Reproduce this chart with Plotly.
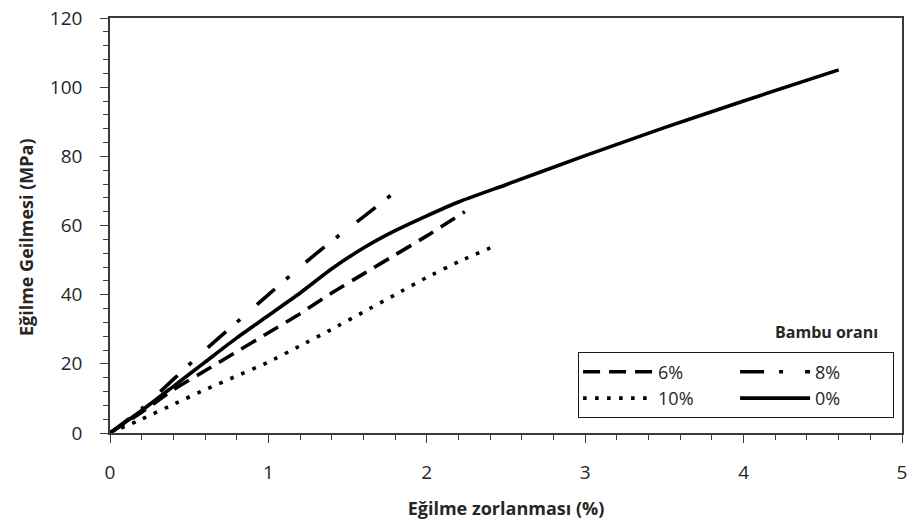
import plotly.graph_objects as go

# Flexural stress-strain curves by bamboo fibre ratio
strain_0 = [0, 0.2, 0.4, 0.6, 0.8, 1.0, 1.2, 1.4, 1.6, 1.8, 2.0, 2.2, 2.5, 3.0, 3.5, 4.0, 4.6]
stress_0 = [0, 6.5, 13.5, 20.5, 27.5, 34, 40.5, 47.5, 53.5, 58.5, 62.8, 66.8, 71.8, 80.2, 88.3, 96, 105]

strain_6 = [0, 0.2, 0.4, 0.6, 0.8, 1.0, 1.2, 1.4, 1.6, 1.8, 2.0, 2.24]
stress_6 = [0, 6, 12.5, 18, 23.5, 29, 34.5, 40.5, 46, 51.5, 57, 64]

strain_8 = [0, 0.2, 0.4, 0.6, 0.8, 1.0, 1.2, 1.4, 1.6, 1.78]
stress_8 = [0, 7, 15.5, 24, 32, 40, 48, 55.5, 62.5, 69]

strain_10 = [0, 0.2, 0.4, 0.6, 0.8, 1.0, 1.2, 1.4, 1.6, 1.8, 2.0, 2.2, 2.45]
stress_10 = [0, 4, 8.3, 12.5, 16.5, 20.5, 25.2, 30, 35, 40, 45, 49.5, 54.5]

FONT = "Open Sans"
INK = "#000000"
TXT = "#262626"
AX = "#3a3a3a"
LW = 3.6

series = [
    ("6%", strain_6, stress_6, "17px,9px", "a"),
    ("10%", strain_10, stress_10, "3.6px,8.4px", "a"),
    ("8%", strain_8, stress_8, "24px,15px,4px,22px", "b"),
    ("0%", strain_0, stress_0, "solid", "b"),
]

fig = go.Figure()
for name, xs, ys, dash, grp in series:
    fig.add_trace(go.Scatter(
        x=xs, y=ys, name=name, mode="lines", legendgroup=grp,
        line=dict(color=INK, width=LW, dash=dash, shape="spline", smoothing=0.5),
    ))

axis_common = dict(
    showgrid=False, zeroline=False, showline=True, linecolor=AX, linewidth=1.6,
    mirror=True, ticks="outside", ticklen=8, tickwidth=1.4, tickcolor=AX,
    tickfont=dict(family=FONT, size=19, color=TXT),
)

fig.update_xaxes(
    range=[0, 5], dtick=1, tick0=0,
    minor=dict(dtick=0.2, ticks="outside", ticklen=5, tickwidth=1.2, tickcolor=AX),
    title=dict(text="<b>Eğilme zorlanması (%)</b>", font=dict(family=FONT, size=18, color=TXT),
               standoff=19),
    ticklabelstandoff=13,
    **axis_common,
)
fig.update_yaxes(
    range=[0, 120], dtick=20, tick0=0,
    minor=dict(dtick=4, ticks="outside", ticklen=5, tickwidth=1.2, tickcolor=AX),
    ticklabelstandoff=14,
    **axis_common,
)

fig.update_layout(
    width=912, height=527,
    margin=dict(l=110, r=5, t=17, b=94),
    paper_bgcolor="white", plot_bgcolor="white",
    showlegend=True,
    legend=dict(
        orientation="h", x=0.591, y=0.195, xanchor="left", yanchor="top",
        bordercolor="#1a1a1a", borderwidth=1.4, bgcolor="white",
        font=dict(family=FONT, size=18, color=TXT),
        itemwidth=70, tracegroupgap=0, entrywidth=72, entrywidthmode="pixels",
        traceorder="grouped",
    ),
    annotations=[
        dict(text="<b>Bambu oranı</b>", xref="paper", yref="paper", x=0.972, y=0.243,
             xanchor="right", yanchor="middle", showarrow=False,
             font=dict(family=FONT, size=16, color=TXT)),
        dict(text="<b>Eğilme Geilmesi (MPa)</b>", xref="paper", yref="paper",
             x=-0.1066, y=0.471, xanchor="center", yanchor="middle", textangle=-90,
             showarrow=False, font=dict(family=FONT, size=18, color=TXT)),
    ],
)

fig.write_html("out.html")
